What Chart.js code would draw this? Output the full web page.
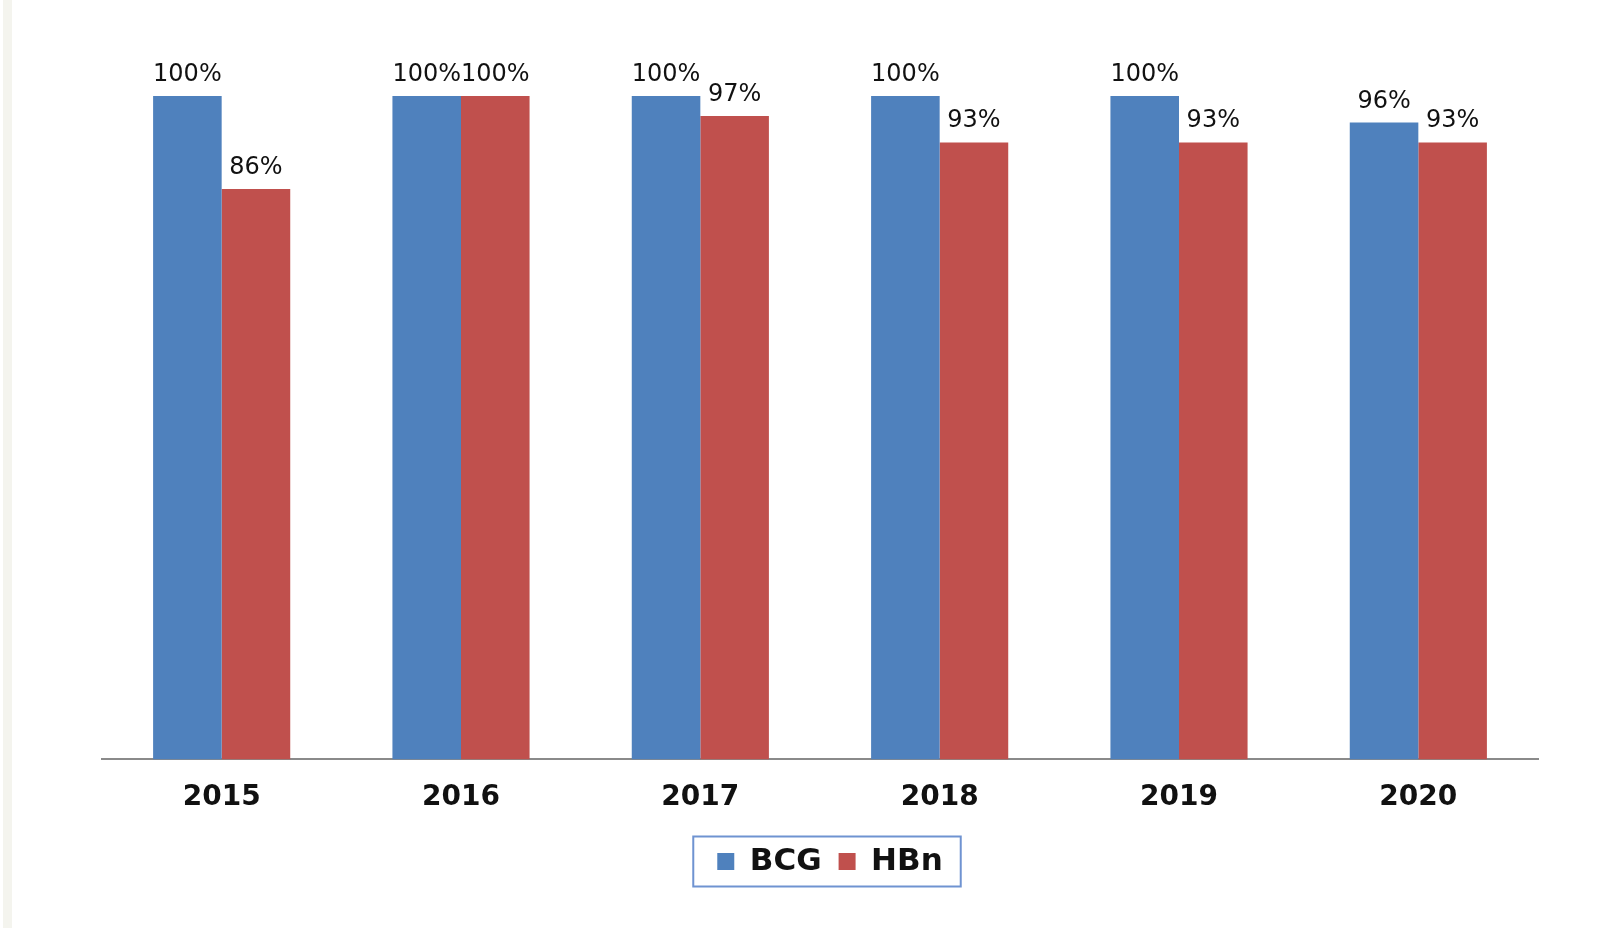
<!DOCTYPE html>
<html>
<head>
<meta charset="utf-8">
<script src="https://cdn.jsdelivr.net/npm/chart.js@4/dist/chart.umd.min.js"></script>
<style>
  html, body { margin: 0; padding: 0; background: #fff; }
  #wrap { position: relative; width: 1606px; height: 928px; }
  #strip { position: absolute; left: 3px; top: 0; width: 9px; height: 928px; background: #f4f4ee; }
  canvas { position: absolute; left: 0; top: 0; }
</style>
</head>
<body>
<div id="wrap">
  <div id="strip"></div>
  <canvas id="chart" width="1606" height="928"></canvas>
</div>
<script>
const years = ['2015', '2016', '2017', '2018', '2019', '2020'];
const bcgValues = [100, 100, 100, 100, 100, 96];
const hbnValues = [86, 100, 97, 93, 93, 93];

const labelFont = '"DejaVu Sans", sans-serif';
const legendShift = 10;

// writes the value above each bar
const valueLabels = {
  id: 'valueLabels',
  afterDatasetsDraw(chart) {
    const ctx = chart.ctx;
    ctx.save();
    ctx.font = '24px ' + labelFont;
    ctx.fillStyle = '#111';
    ctx.textAlign = 'center';
    ctx.textBaseline = 'alphabetic';
    chart.data.datasets.forEach((ds, i) => {
      chart.getDatasetMeta(i).data.forEach((bar, j) => {
        ctx.fillText(ds.data[j] + '%', bar.x, bar.y - 15);
      });
    });
    ctx.restore();
  }
};

// nudges the legend a little to the right and frames it
const legendFrame = {
  id: 'legendFrame',
  afterLayout(chart) {
    chart.legend.left += legendShift;
    chart.legend.right += legendShift;
  },
  afterDraw(chart) {
    const boxes = chart.legend.legendHitBoxes;
    if (!boxes || !boxes.length) return;
    const first = boxes[0];
    const last = boxes[boxes.length - 1];
    const ctx = chart.ctx;
    ctx.save();
    ctx.strokeStyle = '#6f93d1';
    ctx.lineWidth = 2;
    const cy = first.top + first.height / 2;
    const x0 = first.left - 24;
    const x1 = last.left + last.width + 18;
    ctx.strokeRect(x0, cy - 25, x1 - x0, 50);
    ctx.restore();
  }
};

new Chart(document.getElementById('chart'), {
  type: 'bar',
  data: {
    labels: years,
    datasets: [
      { label: 'BCG', data: bcgValues, backgroundColor: '#4f81bd' },
      { label: 'HBn', data: hbnValues, backgroundColor: '#c0504d' }
    ]
  },
  options: {
    responsive: false,
    animation: false,
    devicePixelRatio: 1,
    categoryPercentage: 0.573,
    barPercentage: 1,
    layout: { padding: { top: 96, left: 102, right: 68, bottom: 41 } },
    scales: {
      x: {
        grid: { display: false },
        border: { display: true, color: '#8a8a8a', width: 2 },
        ticks: {
          color: '#111',
          padding: 14,
          font: { family: labelFont, size: 28, weight: 'bold' }
        }
      },
      y: { display: false, min: 0, max: 100 }
    },
    plugins: {
      tooltip: { enabled: false },
      legend: {
        position: 'bottom',
        labels: {
          color: '#111',
          boxWidth: 17,
          boxHeight: 17,
          padding: 17,
          font: { family: labelFont, size: 31, weight: 'bold' }
        }
      }
    }
  },
  plugins: [valueLabels, legendFrame]
});
</script>
</body>
</html>
